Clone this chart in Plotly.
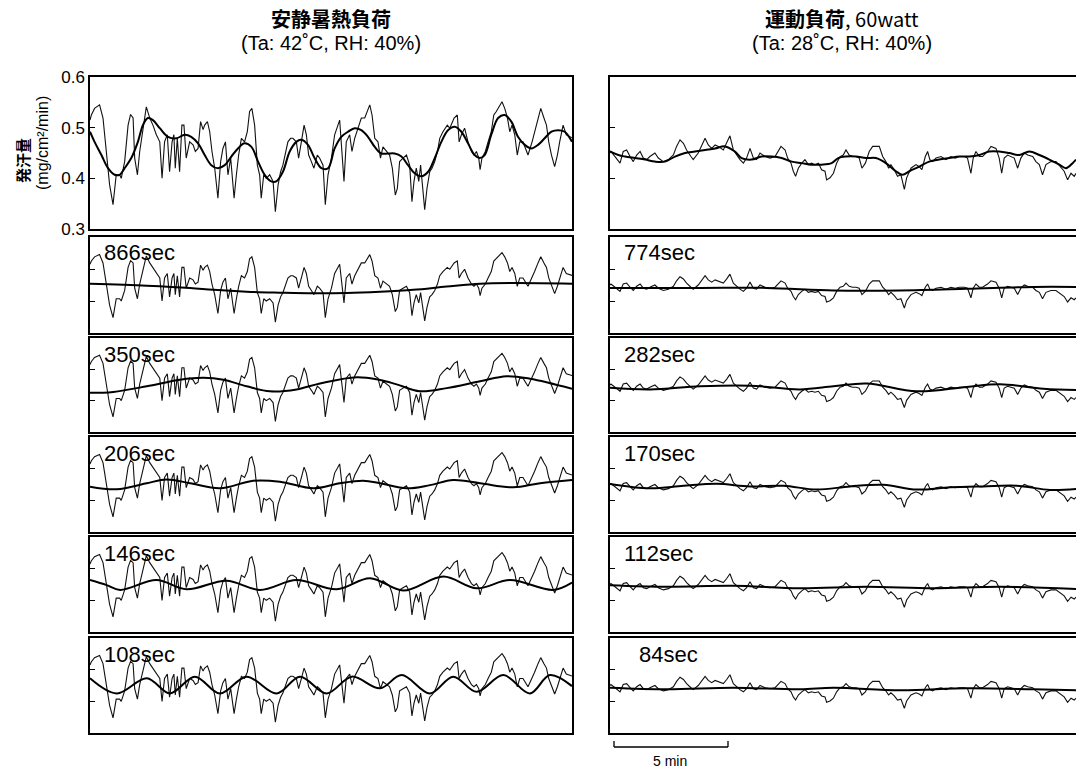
import plotly.graph_objects as go

# ---------------- data (time in minutes, sweat rate in mg/cm2/min) ----------------
LEFT_RAW_T = [0.00, 0.06, 0.20, 0.42, 0.57, 0.64, 0.86, 1.01, 1.15, 1.30, 1.37, 1.52, 1.67, 1.78, 1.89,
              1.96, 2.08, 2.18, 2.32, 2.47, 2.62, 2.76, 2.91, 3.06, 3.16, 3.27, 3.39, 3.49, 3.60, 3.68,
              3.74, 3.83, 3.93, 4.03, 4.12, 4.22, 4.37, 4.52, 4.62, 4.74, 4.85, 4.96, 5.03, 5.15, 5.25,
              5.35, 5.47, 5.61, 5.73, 5.83, 5.94, 6.05, 6.17, 6.32, 6.42, 6.52, 6.64, 6.78, 6.90, 7.00,
              7.10, 7.22, 7.34, 7.44, 7.51, 7.62, 7.73, 7.88, 8.03, 8.13, 8.25, 8.36, 8.46, 8.57, 8.68,
              8.80, 8.90, 9.05, 9.15, 9.27, 9.39, 9.49, 9.59, 9.71, 9.82, 9.97, 10.07, 10.22, 10.32, 10.44,
              10.59, 10.73, 10.95, 11.14, 11.24, 11.39, 11.49, 11.61, 11.76, 11.90, 12.05, 12.27, 12.37,
              12.49, 12.63, 12.74, 12.85, 13.00, 13.14, 13.26, 13.39, 13.48, 13.58, 13.73, 13.88, 14.02,
              14.12, 14.21, 14.31, 14.42, 14.50, 14.58, 14.68, 14.78, 14.90, 15.00, 15.12, 15.24, 15.34,
              15.48, 15.67, 15.78, 15.97, 16.11, 16.19, 16.29, 16.43, 16.58, 16.73, 16.84, 16.95, 17.05,
              17.11, 17.19, 17.34, 17.46, 17.60, 17.71, 17.82, 18.07, 18.19, 18.31, 18.41, 18.51, 18.63,
              18.74, 18.85, 18.99, 19.21, 19.39, 19.50, 19.65, 19.77, 19.91, 20.02, 20.12, 20.24, 20.38,
              20.50, 20.60, 20.75, 20.89, 21.14]
LEFT_RAW_V = [0.515, 0.525, 0.538, 0.545, 0.519, 0.486, 0.387, 0.348, 0.407, 0.407, 0.400, 0.433, 0.505, 0.526, 0.519,
              0.440, 0.407, 0.453, 0.492, 0.541, 0.519, 0.505, 0.486, 0.472, 0.400, 0.472, 0.486, 0.413, 0.472, 0.486,
              0.420, 0.479, 0.413, 0.505, 0.505, 0.440, 0.472, 0.466, 0.453, 0.459, 0.512, 0.496, 0.505, 0.512, 0.492,
              0.453, 0.420, 0.361, 0.433, 0.459, 0.472, 0.407, 0.440, 0.361, 0.407, 0.446, 0.479, 0.472, 0.492, 0.532,
              0.538, 0.505, 0.426, 0.407, 0.361, 0.407, 0.400, 0.407, 0.394, 0.334, 0.387, 0.413, 0.426, 0.446, 0.472,
              0.479, 0.479, 0.472, 0.440, 0.472, 0.505, 0.486, 0.446, 0.433, 0.420, 0.446, 0.440, 0.426, 0.348, 0.407,
              0.440, 0.486, 0.515, 0.394, 0.472, 0.486, 0.453, 0.479, 0.499, 0.519, 0.519, 0.545, 0.525,
              0.479, 0.472, 0.440, 0.462, 0.453, 0.446, 0.420, 0.367, 0.380, 0.433, 0.440, 0.446, 0.426,
              0.354, 0.394, 0.420, 0.394, 0.426, 0.387, 0.338, 0.380, 0.413, 0.420, 0.433, 0.453, 0.479,
              0.492, 0.505, 0.499, 0.519, 0.525, 0.472, 0.486, 0.499, 0.472, 0.453, 0.446, 0.453, 0.440,
              0.417, 0.440, 0.453, 0.472, 0.492, 0.525, 0.532, 0.551, 0.538, 0.519, 0.492, 0.505, 0.486,
              0.446, 0.472, 0.472, 0.446, 0.472, 0.492, 0.519, 0.538, 0.519, 0.505, 0.472, 0.446, 0.423,
              0.446, 0.472, 0.505, 0.486, 0.480]

RIGHT_RAW_T = [0.00, 0.04, 0.22, 0.44, 0.58, 0.73, 0.88, 1.02, 1.17, 1.32, 1.46, 1.61, 1.75, 1.97, 2.12,
               2.34, 2.56, 2.78, 2.92, 3.07, 3.22, 3.36, 3.55, 3.65, 3.87, 4.05, 4.17, 4.31, 4.46, 4.61,
               4.75, 4.97, 5.12, 5.26, 5.41, 5.56, 5.70, 5.85, 5.99, 6.14, 6.29, 6.43, 6.58, 6.80, 7.02,
               7.24, 7.38, 7.50, 7.68, 7.79, 7.94, 8.04, 8.14, 8.26, 8.41, 8.55, 8.70, 8.84, 8.99, 9.14,
               9.28, 9.43, 9.50, 9.65, 9.80, 9.94, 10.09, 10.23, 10.35, 10.49, 10.64, 10.79, 10.93, 11.05,
               11.20, 11.37, 11.52, 11.66, 11.81, 11.96, 12.10, 12.22, 12.32, 12.47, 12.61, 12.76, 12.91,
               13.01, 13.20, 13.42, 13.56, 13.68, 13.83, 13.93, 14.03, 14.15, 14.30, 14.52, 14.73, 14.95,
               15.14, 15.32, 15.54, 15.68, 15.83, 15.93, 16.05, 16.20, 16.34, 16.56, 16.71, 16.93, 17.07,
               17.18, 17.29, 17.44, 17.59, 17.73, 17.88, 18.02, 18.17, 18.32, 18.54, 18.68, 18.83, 18.97,
               19.12, 19.34, 19.56, 19.78, 19.92, 20.07, 20.22, 20.36, 20.44]
RIGHT_RAW_V = [0.450, 0.453, 0.443, 0.430, 0.453, 0.456, 0.443, 0.433, 0.446, 0.453, 0.440, 0.437, 0.443, 0.450, 0.440,
               0.433, 0.437, 0.446, 0.463, 0.476, 0.469, 0.456, 0.443, 0.437, 0.450, 0.469, 0.479, 0.466, 0.459, 0.466,
               0.463, 0.456, 0.469, 0.484, 0.456, 0.446, 0.437, 0.430, 0.440, 0.459, 0.440, 0.437, 0.450, 0.443, 0.440,
               0.443, 0.453, 0.463, 0.456, 0.440, 0.430, 0.414, 0.404, 0.420, 0.430, 0.437, 0.427, 0.430, 0.427, 0.430,
               0.417, 0.414, 0.397, 0.401, 0.410, 0.430, 0.443, 0.446, 0.456, 0.446, 0.443, 0.443, 0.440, 0.420,
               0.430, 0.453, 0.463, 0.463, 0.463, 0.443, 0.433, 0.420, 0.427, 0.417, 0.404, 0.407, 0.378,
               0.401, 0.420, 0.427, 0.423, 0.417, 0.443, 0.453, 0.437, 0.433, 0.440, 0.443, 0.437, 0.443,
               0.440, 0.443, 0.443, 0.440, 0.410, 0.440, 0.453, 0.443, 0.443, 0.453, 0.463, 0.459, 0.440,
               0.410, 0.440, 0.446, 0.443, 0.440, 0.420, 0.440, 0.450, 0.446, 0.443, 0.433, 0.427, 0.407,
               0.427, 0.433, 0.433, 0.420, 0.414, 0.397, 0.410, 0.404, 0.410]

# smoothed / band components, left column (rest heat load)
L1_T = [0.00, 0.20, 0.50, 0.79, 1.08, 1.30, 1.52, 1.81, 2.10, 2.32, 2.54, 2.76, 3.06, 3.42, 3.79, 4.15, 4.44,
        4.74, 5.03, 5.32, 5.61, 5.91, 6.20, 6.49, 6.78, 7.08, 7.37, 7.66, 7.95, 8.17, 8.46, 8.76, 9.05, 9.27,
        9.56, 9.85, 10.15, 10.44, 10.73, 11.02, 11.32, 11.61, 11.90, 12.19, 12.49, 12.78, 13.07, 13.36, 13.66,
        13.95, 14.24, 14.53, 14.83, 15.12, 15.41, 15.70, 16.00, 16.29, 16.58, 16.87, 17.09, 17.31, 17.60, 17.90,
        18.19, 18.48, 18.77, 19.07, 19.36, 19.65, 19.94, 20.24, 20.53, 20.82, 21.14]
L1_V = [0.492, 0.472, 0.446, 0.420, 0.407, 0.407, 0.420, 0.440, 0.472, 0.505, 0.519, 0.515, 0.499, 0.482, 0.479, 0.486, 0.482,
        0.469, 0.446, 0.426, 0.420, 0.426, 0.443, 0.459, 0.469, 0.462, 0.433, 0.407, 0.394, 0.394, 0.413, 0.453, 0.472, 0.476,
        0.466, 0.440, 0.420, 0.420, 0.459, 0.482, 0.492, 0.499, 0.495, 0.482, 0.462, 0.449, 0.449, 0.449, 0.443,
        0.426, 0.410, 0.404, 0.413, 0.440, 0.472, 0.495, 0.502, 0.492, 0.469, 0.446, 0.440, 0.446, 0.486, 0.519,
        0.525, 0.512, 0.482, 0.466, 0.459, 0.466, 0.479, 0.492, 0.495, 0.492, 0.472]
L2_T = [0.00, 2.49, 4.39, 5.41, 6.87, 8.33, 9.80, 11.26, 12.72, 14.18, 15.64, 17.11, 18.57, 21.14]
L2_V = [0.454, 0.448, 0.441, 0.435, 0.429, 0.426, 0.424, 0.425, 0.429, 0.435, 0.445, 0.454, 0.456, 0.454]
L3_T = [0.00, 1.02, 2.49, 3.95, 4.97, 5.85, 6.87, 7.89, 9.06, 10.09, 11.70, 12.72, 13.45, 14.47, 15.64, 17.11, 18.27, 19.30, 21.14]
L3_V = [0.425, 0.428, 0.446, 0.467, 0.473, 0.467, 0.446, 0.430, 0.436, 0.455, 0.475, 0.466, 0.452, 0.430, 0.440, 0.462, 0.478, 0.470, 0.438]
L4_T = [0.00, 1.17, 2.49, 3.36, 4.39, 5.70, 7.16, 8.33, 9.80, 10.96, 11.99, 12.72, 13.89, 14.91, 15.93, 17.11, 18.57, 19.74, 21.14]
L4_V = [0.443, 0.435, 0.454, 0.466, 0.454, 0.438, 0.462, 0.459, 0.438, 0.454, 0.462, 0.454, 0.438, 0.448, 0.464, 0.454, 0.441, 0.454, 0.464]
L5_T = [0.00, 0.73, 1.32, 2.92, 4.24, 5.99, 7.46, 9.06, 10.82, 12.28, 13.74, 15.50, 16.96, 18.42, 20.32, 21.14]
L5_V = [0.464, 0.448, 0.433, 0.464, 0.435, 0.462, 0.433, 0.464, 0.435, 0.470, 0.431, 0.475, 0.438, 0.464, 0.433, 0.456]
L6_T = [0.00, 1.17, 2.49, 3.51, 4.60, 5.70, 6.87, 8.19, 9.21, 10.38, 11.48, 12.72, 13.67, 14.91, 15.93, 16.96, 18.13, 19.30, 20.17, 21.14]
L6_V = [0.473, 0.425, 0.473, 0.425, 0.478, 0.425, 0.478, 0.425, 0.478, 0.425, 0.478, 0.441, 0.483, 0.425, 0.478, 0.430, 0.483, 0.425, 0.483, 0.448]

# right column (exercise load)
R1_T = [0.00, 0.37, 0.66, 1.10, 1.54, 1.97, 2.41, 2.85, 3.29, 3.73, 4.17, 4.61, 5.04, 5.48, 5.77, 6.21, 6.65,
        7.09, 7.53, 7.97, 8.41, 8.84, 9.28, 9.72, 10.01, 10.35, 10.79, 11.23, 11.66, 12.10, 12.54, 12.83, 13.13,
        13.56, 14.00, 14.44, 14.88, 15.32, 15.76, 16.20, 16.63, 17.07, 17.51, 17.95, 18.39, 18.83, 19.27, 19.71,
        20.00, 20.29, 20.44]
R1_V = [0.453, 0.446, 0.443, 0.440, 0.437, 0.433, 0.433, 0.443, 0.450, 0.453, 0.456, 0.459, 0.463, 0.453, 0.440, 0.437, 0.443,
        0.443, 0.440, 0.433, 0.430, 0.427, 0.427, 0.430, 0.440, 0.443, 0.443, 0.440, 0.440, 0.430, 0.414, 0.407, 0.414,
        0.423, 0.433, 0.437, 0.440, 0.443, 0.443, 0.446, 0.453, 0.453, 0.450, 0.446, 0.453, 0.446, 0.437, 0.427,
        0.420, 0.430, 0.437]
R2_T = [0.00, 3.95, 6.87, 9.80, 12.72, 15.64, 18.57, 20.44]
R2_V = [0.441, 0.441, 0.441, 0.433, 0.433, 0.438, 0.444, 0.444]
R3_T = [0.00, 1.75, 3.95, 6.14, 8.33, 9.80, 11.26, 13.45, 15.64, 17.11, 19.01, 20.44]
R3_V = [0.441, 0.436, 0.446, 0.448, 0.436, 0.446, 0.455, 0.430, 0.444, 0.452, 0.438, 0.434]
R4_T = [0.00, 1.75, 3.22, 4.68, 6.14, 7.60, 9.06, 10.53, 11.99, 13.45, 14.91, 16.37, 17.84, 19.30, 20.44]
R4_V = [0.452, 0.438, 0.446, 0.452, 0.444, 0.446, 0.434, 0.444, 0.449, 0.434, 0.441, 0.444, 0.446, 0.433, 0.436]
R5_T = [0.00, 2.49, 5.41, 8.33, 11.26, 14.18, 17.11, 20.44]
R5_V = [0.448, 0.443, 0.446, 0.438, 0.443, 0.438, 0.443, 0.436]
R6_T = [0.00, 2.49, 5.41, 8.33, 9.80, 12.72, 15.64, 18.57, 20.44]
R6_V = [0.443, 0.438, 0.443, 0.438, 0.443, 0.435, 0.441, 0.438, 0.435]

LEFT_LABELS = ["", "866sec", "350sec", "206sec", "146sec", "108sec"]
RIGHT_LABELS = ["", "774sec", "282sec", "170sec", "112sec", "84sec"]
Y_TICKS = [0.3, 0.4, 0.5, 0.6]
Y_TICK_TEXT = ["0.3", "0.4", "0.5", "0.6"]
TITLE_LEFT = ["<b>安静暑熱負荷</b>", "(Ta: 42˚C, RH: 40%)"]
TITLE_RIGHT = ["<b>運動負荷</b>, 60watt", "(Ta: 28˚C, RH: 40%)"]
Y_TITLE = ["発汗量", "(mg/cm²/min)"]
SCALE_MIN = 5

LEFT_SMOOTH = [(L1_T, L1_V), (L2_T, L2_V), (L3_T, L3_V), (L4_T, L4_V), (L5_T, L5_V), (L6_T, L6_V)]
RIGHT_SMOOTH = [(R1_T, R1_V), (R2_T, R2_V), (R3_T, R3_V), (R4_T, R4_V), (R5_T, R5_V), (R6_T, R6_V)]

# ---------------- layout geometry ----------------
W, H = 1076, 770
PX_PER_MIN = 22.8
COLS = [(90, 572), (610, 1076)]
ROWS = [(77, 229), (237, 333), (338, 432), (437, 532), (537, 632), (638, 733)]
FONT = "Liberation Sans, Arial, Noto Sans CJK JP, sans-serif"
CJK = "Noto Sans CJK JP, Liberation Sans, sans-serif"


def fx(px):
    return px / W


def fy(py):
    return 1 - py / H


fig = go.Figure()
layout = dict(template="none", width=W, height=H, autosize=False,
              margin=dict(l=0, r=0, t=0, b=0, pad=0, autoexpand=False),
              paper_bgcolor="white", plot_bgcolor="white", showlegend=False,
              font=dict(family=FONT, color="black"))

for k in range(6):
    for s in range(2):
        n = k * 2 + s + 1
        x0, x1 = COLS[s]
        y0, y1 = ROWS[k]
        xmax = (x1 - x0) / PX_PER_MIN
        layout[f"xaxis{n}"] = dict(domain=[fx(x0), fx(x1)], range=[0, xmax], anchor=f"y{n}",
                                   showline=True, mirror=True, linecolor="black", linewidth=1.5,
                                   showticklabels=False, ticks="", showgrid=False, zeroline=False,
                                   automargin=False, fixedrange=True)
        ya = dict(domain=[fy(y1), fy(y0)], range=[0.3, 0.6], anchor=f"x{n}",
                  showline=True, mirror=(s == 0), linecolor="black", linewidth=1.5,
                  ticks="inside", ticklen=5, tickwidth=1.2, tickcolor="black",
                  tickvals=[0.4, 0.5], showticklabels=False, showgrid=False, zeroline=False,
                  automargin=False)
        if k == 0 and s == 0:
            ya.update(tickvals=Y_TICKS, ticktext=Y_TICK_TEXT, showticklabels=True,
                      tickfont=dict(size=17, family=FONT, color="black"))
        layout[f"yaxis{n}"] = ya

        raw_t, raw_v = (LEFT_RAW_T, LEFT_RAW_V) if s == 0 else (RIGHT_RAW_T, RIGHT_RAW_V)
        sm_t, sm_v = (LEFT_SMOOTH if s == 0 else RIGHT_SMOOTH)[k]
        xa, yaname = ("x" if n == 1 else f"x{n}"), ("y" if n == 1 else f"y{n}")
        fig.add_trace(go.Scatter(x=raw_t, y=raw_v, mode="lines", xaxis=xa, yaxis=yaname,
                                 line=dict(color="#111111", width=1.1), hoverinfo="skip"))
        fig.add_trace(go.Scatter(x=sm_t, y=sm_v, mode="lines", xaxis=xa, yaxis=yaname,
                                 line=dict(color="black", width=2, shape="spline", smoothing=1.0),
                                 hoverinfo="skip"))

annotations = []
# panel labels
for k in range(1, 6):
    for s, labels in enumerate([LEFT_LABELS, RIGHT_LABELS]):
        lx = 102 if s == 0 else (622 if labels[k] != "84sec" else 637)
        annotations.append(dict(x=fx(lx), y=fy(ROWS[k][0] + 16), xref="paper", yref="paper",
                                text=labels[k], showarrow=False, xanchor="left", yanchor="middle",
                                font=dict(size=22, family=FONT, color="black")))
# column titles
for cx, lines in [(331, TITLE_LEFT), (842, TITLE_RIGHT)]:
    annotations.append(dict(x=fx(cx), y=fy(19), xref="paper", yref="paper", text=lines[0],
                            showarrow=False, xanchor="center", yanchor="middle",
                            font=dict(size=20, family=CJK, color="black")))
    annotations.append(dict(x=fx(cx), y=fy(43), xref="paper", yref="paper", text=lines[1],
                            showarrow=False, xanchor="center", yanchor="middle",
                            font=dict(size=20, family=FONT, color="black")))
# y-axis title
annotations.append(dict(x=fx(22), y=fy(161), xref="paper", yref="paper", text="<b>" + Y_TITLE[0] + "</b>",
                        showarrow=False, textangle=-90, xanchor="center", yanchor="middle",
                        font=dict(size=15, family=CJK, color="black")))
annotations.append(dict(x=fx(42), y=fy(143), xref="paper", yref="paper", text=Y_TITLE[1],
                        showarrow=False, textangle=-90, xanchor="center", yanchor="middle",
                        font=dict(size=16, family=FONT, color="black")))
# scale bar
bar_x0 = 614
bar_x1 = bar_x0 + SCALE_MIN * PX_PER_MIN
shapes = [
    dict(type="line", xref="paper", yref="paper", x0=fx(bar_x0), x1=fx(bar_x1), y0=fy(747), y1=fy(747),
         line=dict(color="black", width=1.3)),
    dict(type="line", xref="paper", yref="paper", x0=fx(bar_x0), x1=fx(bar_x0), y0=fy(747), y1=fy(741),
         line=dict(color="black", width=1.3)),
    dict(type="line", xref="paper", yref="paper", x0=fx(bar_x1), x1=fx(bar_x1), y0=fy(747), y1=fy(741),
         line=dict(color="black", width=1.3)),
]
annotations.append(dict(x=fx((bar_x0 + bar_x1) / 2 - 1), y=fy(761), xref="paper", yref="paper",
                        text=f"{SCALE_MIN} min", showarrow=False, xanchor="center", yanchor="middle",
                        font=dict(size=14, family=FONT, color="black")))

layout["annotations"] = annotations
layout["shapes"] = shapes
fig.update_layout(**layout)

POST = (
    "var de=document.documentElement, b=document.body;"
    "de.style.margin='0';de.style.padding='0';de.style.overflow='hidden';"
    "b.style.margin='0';b.style.padding='0';b.style.overflow='hidden';"
)
fig.write_html("out.html", config={"responsive": False, "displayModeBar": False}, post_script=POST)
